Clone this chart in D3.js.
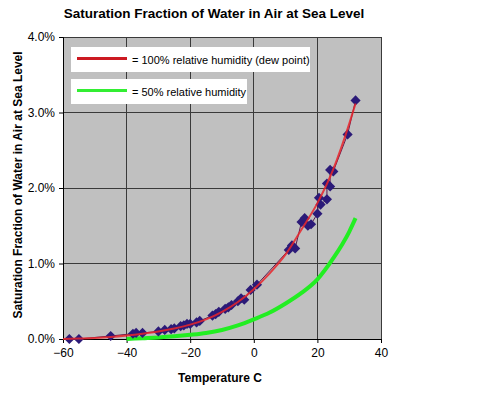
<!DOCTYPE html>
<html>
<head>
<meta charset="utf-8">
<script src="https://cdn.jsdelivr.net/npm/d3@7"></script>
<style>
  body { margin: 0; background: #fff; }
  svg text { font-family: "Liberation Sans", Arial, sans-serif; }
</style>
</head>
<body>
<svg id="chart" width="500" height="393"></svg>
<script>
// ---- data (temperature C, saturation %) ----
const measured = [
  [-58, 0.0], [-55, 0.0], [-45, 0.04], [-38, 0.07], [-37, 0.08], [-35, 0.08],
  [-30, 0.1], [-28, 0.12], [-26, 0.13], [-25, 0.14], [-23, 0.17], [-22, 0.18],
  [-21, 0.2], [-20, 0.2], [-18, 0.22], [-17, 0.24], [-13, 0.31], [-12, 0.33],
  [-11, 0.36], [-9, 0.4], [-8, 0.42], [-7, 0.45], [-5, 0.5], [-4, 0.54],
  [-3, 0.52], [-1, 0.65], [1, 0.72], [11, 1.18], [12, 1.24], [13, 1.2],
  [15, 1.55], [16, 1.6], [17, 1.5], [18, 1.52], [20, 1.66], [20.5, 1.87],
  [21, 1.78], [23, 1.85], [23, 2.06], [24, 2.02], [24, 2.24], [25, 2.22],
  [29.5, 2.71], [32, 3.16]
];

const dewTemps = [-60, -55, -50, -45, -40, -35, -30, -25, -20, -15, -10, -5, 0, 5, 10, 15, 20, 25, 30, 32];
const dewValues = [0.0, 0.005, 0.012, 0.025, 0.045, 0.07, 0.1, 0.14, 0.19, 0.26, 0.36, 0.49, 0.66, 0.87, 1.12, 1.45, 1.8, 2.25, 2.85, 3.12];

const halfTemps = [-40, -35, -30, -25, -20, -15, -10, -5, 0, 5, 10, 15, 20, 25, 30, 32];
const halfValues = [0.0, 0.01, 0.02, 0.035, 0.055, 0.08, 0.12, 0.18, 0.26, 0.35, 0.47, 0.61, 0.79, 1.07, 1.42, 1.6];

const xTicks = [-60, -40, -20, 0, 20, 40];
const yTicks = [0, 1, 2, 3, 4];

const legendLabels = [
  "= 100% relative humidity (dew point)",
  "= 50% relative humidity"
];

// ---- layout ----
const svg = d3.select("#chart");
const margin = { top: 37, right: 119, bottom: 54, left: 63 };
const width = +svg.attr("width");
const height = +svg.attr("height");
const innerWidth = width - margin.left - margin.right;
const innerHeight = height - margin.top - margin.bottom;

const g = svg.append("g")
  .attr("transform", `translate(${margin.left},${margin.top})`);

const x = d3.scaleLinear().domain([-60, 40]).range([0, innerWidth]);
const y = d3.scaleLinear().domain([0, 4]).range([innerHeight, 0]);

// plot background
g.append("rect")
  .attr("width", innerWidth)
  .attr("height", innerHeight)
  .attr("fill", "#c0c0c0");

// grid
g.append("g")
  .selectAll("line")
  .data(xTicks.slice(1))
  .join("line")
  .attr("x1", (d) => x(d)).attr("x2", (d) => x(d))
  .attr("y1", 0).attr("y2", innerHeight)
  .attr("stroke", "#3a3a3a").attr("stroke-width", 1)
  .attr("shape-rendering", "crispEdges");

g.append("g")
  .selectAll("line")
  .data(yTicks.slice(1))
  .join("line")
  .attr("x1", 0).attr("x2", innerWidth)
  .attr("y1", (d) => y(d)).attr("y2", (d) => y(d))
  .attr("stroke", "#3a3a3a").attr("stroke-width", 1)
  .attr("shape-rendering", "crispEdges");

// axes
g.append("g")
  .attr("transform", `translate(0,${innerHeight})`)
  .call(d3.axisBottom(x).tickValues(xTicks).tickFormat(d3.format("d")).tickSize(4).tickPadding(5))
  .call((a) => a.selectAll("text").attr("font-size", 12).attr("fill", "#000")
    .style("font-family", "Liberation Sans, Arial, sans-serif"))
  .call((a) => a.selectAll("line, .domain").attr("stroke", "#000"));

g.append("g")
  .call(d3.axisLeft(y).tickValues(yTicks).tickFormat((d) => d.toFixed(1) + "%").tickSize(4).tickPadding(4))
  .call((a) => a.selectAll("text").attr("font-size", 12).attr("fill", "#000")
    .style("font-family", "Liberation Sans, Arial, sans-serif"))
  .call((a) => a.selectAll("line, .domain").attr("stroke", "#000"));

// series
const line = d3.line().x((d) => x(d[0])).y((d) => y(d[1]));
const smooth = d3.line().x((d) => x(d[0])).y((d) => y(d[1])).curve(d3.curveMonotoneX);

const dew = dewTemps.map((t, i) => [t, dewValues[i]]);
const half = halfTemps.map((t, i) => [t, halfValues[i]]);

g.append("path")
  .datum(half)
  .attr("fill", "none")
  .attr("stroke", "#22ee22")
  .attr("stroke-width", 4)
  .attr("d", smooth);

g.append("path")
  .datum(measured)
  .attr("fill", "none")
  .attr("stroke", "#5a1a50")
  .attr("stroke-width", 1)
  .attr("d", line);

g.append("g")
  .selectAll("path")
  .data(measured)
  .join("path")
  .attr("transform", (d) => `translate(${x(d[0])},${y(d[1])})`)
  .attr("d", d3.symbol(d3.symbolDiamond2, 66))
  .attr("fill", "#2b1a78");

g.append("path")
  .datum(dew)
  .attr("fill", "none")
  .attr("stroke", "#e8242a")
  .attr("stroke-width", 2)
  .attr("stroke-opacity", 0.85)
  .attr("d", smooth);

// legend boxes (inside plot)
const legend = [
  { label: legendLabels[0], color: "#cc1a22", box: [8, 10, 239, 25] },
  { label: legendLabels[1], color: "#33ee33", box: [8, 42, 176, 25] }
];
legend.forEach((l) => {
  const [bx, by, bw, bh] = l.box;
  g.append("rect")
    .attr("x", bx).attr("y", by).attr("width", bw).attr("height", bh)
    .attr("fill", "#fff");
  g.append("line")
    .attr("x1", bx + 6).attr("x2", bx + 56)
    .attr("y1", by + bh / 2 - 1).attr("y2", by + bh / 2 - 1)
    .attr("stroke", l.color).attr("stroke-width", 3);
  g.append("text")
    .attr("x", bx + 61).attr("y", by + bh / 2 + 4)
    .attr("font-size", 11)
    .text(l.label);
});

// titles
svg.append("text")
  .attr("x", margin.left + 151).attr("y", 18)
  .attr("text-anchor", "middle")
  .attr("font-size", 13.5).attr("font-weight", "bold")
  .text("Saturation Fraction of Water in Air at Sea Level");

svg.append("text")
  .attr("transform", `translate(22,${margin.top + innerHeight / 2 - 3}) rotate(-90)`)
  .attr("text-anchor", "middle")
  .attr("font-size", 12).attr("font-weight", "bold")
  .text("Saturation Fraction of Water in Air at Sea Level");

svg.append("text")
  .attr("x", margin.left + innerWidth / 2 - 2).attr("y", 382)
  .attr("text-anchor", "middle")
  .attr("font-size", 12).attr("font-weight", "bold")
  .text("Temperature C");
</script>
</body>
</html>
